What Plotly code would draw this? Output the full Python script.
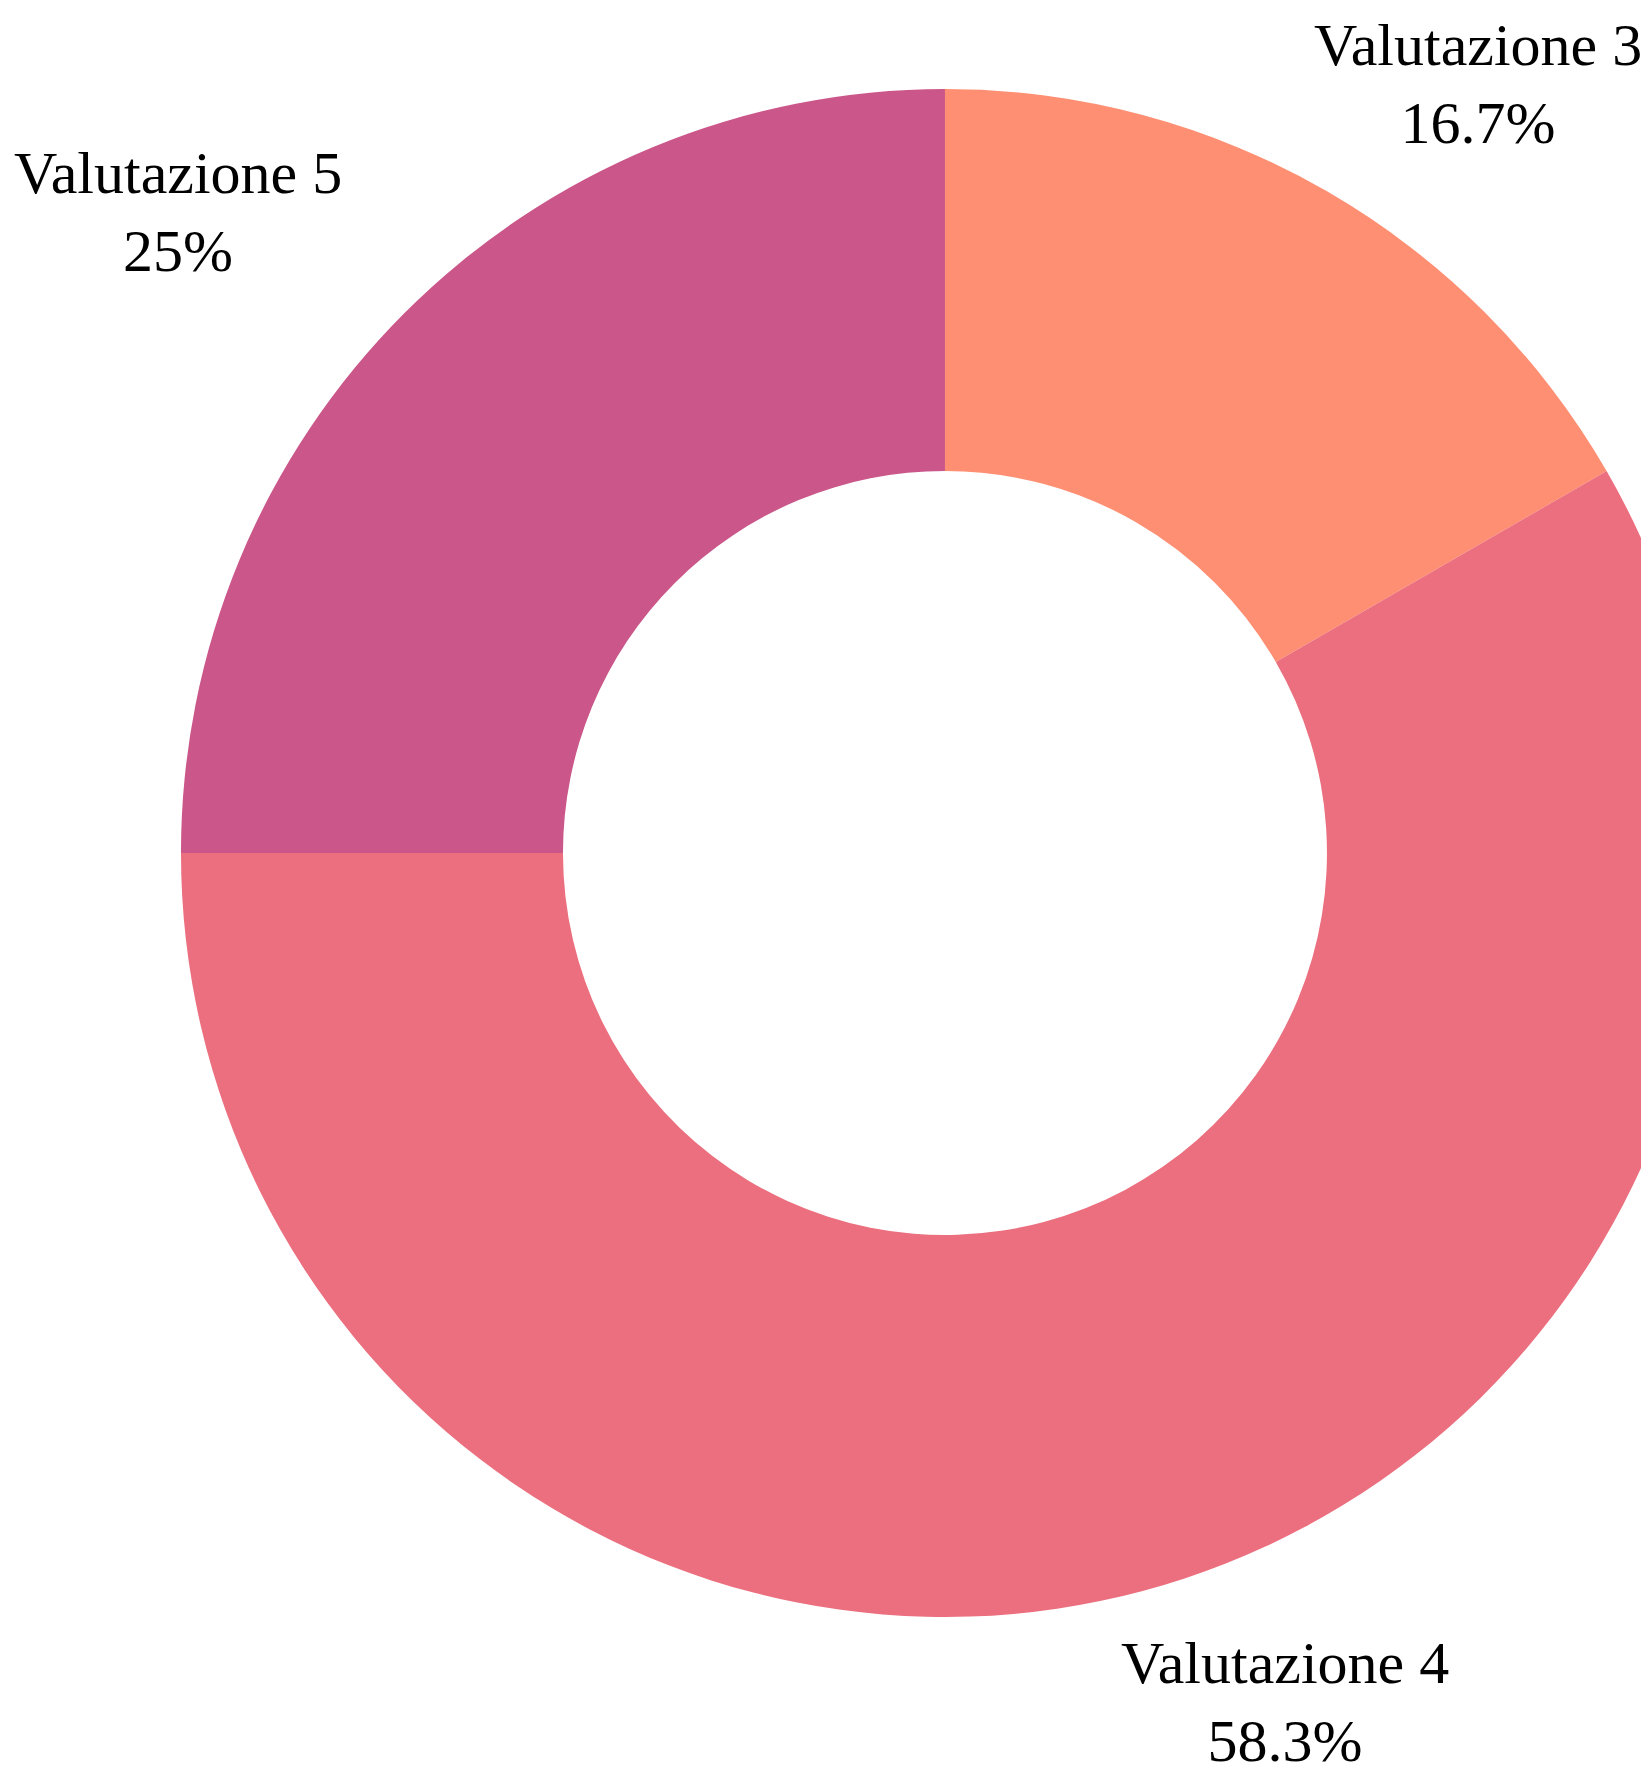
import math
import plotly.graph_objects as go

labels = ["Valutazione 3", "Valutazione 4", "Valutazione 5"]
values = [2, 7, 3]
colors = ["#FE8F73", "#EB6F7E", "#CA568A"]

FONT = "Times New Roman, Liberation Serif, serif"
W, H = 1752, 1800
M_L, M_R, M_T, M_B = 0, 0, 81, 191
plot_w = W - M_L - M_R
plot_h = H - M_T - M_B
PIE_CX = 0.5348                      # horizontal centre of the pie domain (paper fraction)
DOM_X = [2 * PIE_CX - 1, 1.0]
R = min(plot_w * (DOM_X[1] - DOM_X[0]), plot_h) / 2
GAP = 38
XSHIFT = -34

fig = go.Figure(
    go.Pie(
        labels=labels,
        values=values,
        hole=0.5,
        sort=False,
        direction="clockwise",
        rotation=0,
        domain=dict(x=DOM_X, y=[0, 1]),
        marker=dict(colors=colors),
        textinfo="none",
        hoverinfo="label+percent",
        showlegend=False,
    )
)

total = sum(values)
cum = 0
for lab, v in zip(labels, values):
    mid = (cum + v / 2) / total
    cum += v
    th = 2 * math.pi * mid
    sx, cy = math.sin(th), math.cos(th)
    xp = PIE_CX + (R + GAP) * sx / plot_w
    yp = 0.5 + (R + GAP) * cy / plot_h
    pct = v / total * 100
    pct_txt = f"{pct:.1f}".rstrip("0").rstrip(".") + "%"
    fig.add_annotation(
        x=xp, y=yp, xref="paper", yref="paper",
        text=f"{lab}<br>{pct_txt}",
        showarrow=False,
        xanchor="left" if sx > 0 else "right",
        yanchor="bottom" if cy > 0 else "top",
        xshift=XSHIFT,
        align="center",
        font=dict(family=FONT, size=60, color="black"),
    )

fig.update_layout(
    width=W,
    height=H,
    margin=dict(l=M_L, r=M_R, t=M_T, b=M_B),
    paper_bgcolor="white",
    plot_bgcolor="white",
    font=dict(family=FONT),
)
fig.write_html("out.html")
